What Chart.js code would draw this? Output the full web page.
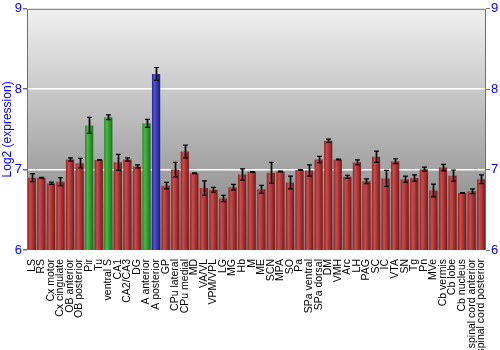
<!DOCTYPE html>
<html>
<head>
<meta charset="utf-8">
<script src="https://cdn.jsdelivr.net/npm/chart.js@4/dist/chart.umd.min.js"></script>
<style>
  html, body { margin: 0; padding: 0; background: #fff; }
  #wrap { width: 500px; height: 350px; }
</style>
</head>
<body>
<div id="wrap"><canvas id="c" width="500" height="350"></canvas></div>
<script>
const regions = ['LS', 'RS', 'Cx motor', 'Cx cingulate', 'OB anterior', 'OB posterior', 'Pir', 'Tu',
  'ventral S', 'CA1', 'CA2/CA3', 'DG', 'A anterior', 'A posterior', 'GP', 'CPu lateral', 'CPu medial',
  'MD', 'VA/VL', 'VPM/VPL', 'LG', 'MG', 'Hb', 'M', 'ME', 'SCN', 'MPA', 'SO', 'Pa', 'SPa ventral',
  'SPa dorsal', 'DM', 'VMH', 'Arc', 'LH', 'PAG', 'SC', 'IC', 'VTA', 'SN', 'Tg', 'Pn', 'MVe',
  'Cb vermis', 'Cb lobe', 'Cb nucleus', 'spinal cord anterior', 'spinal cord posterior']
const expression = [6.90, 6.90, 6.83, 6.85, 7.125, 7.08, 7.55, 7.12,
  7.65, 7.09, 7.125, 7.04, 7.575, 8.19, 6.80, 7.00, 7.225,
  6.955, 6.77, 6.75, 6.64, 6.78, 6.94, 6.97, 6.755, 6.96, 6.975, 6.84, 6.995, 6.99,
  7.125, 7.36, 7.125, 6.91, 7.09, 6.855, 7.16, 6.89, 7.105, 6.88, 6.895, 7.005, 6.74,
  7.025, 6.925, 6.71, 6.73, 6.88]
const errors = [0.05, 0.005, 0.015, 0.05, 0.02, 0.06, 0.10, 0.005,
  0.03, 0.10, 0.02, 0.02, 0.05, 0.08, 0.04, 0.09, 0.08,
  0.005, 0.09, 0.03, 0.04, 0.035, 0.07, 0.005, 0.05, 0.13, 0.005, 0.08, 0.005, 0.07,
  0.04, 0.02, 0.005, 0.02, 0.03, 0.03, 0.07, 0.10, 0.03, 0.04, 0.04, 0.025, 0.08,
  0.04, 0.07, 0.005, 0.03, 0.055]
const yTicks = [6, 7, 8, 9]

const greenSet = ['Pir', 'ventral S', 'A anterior']
const blueSet = ['A posterior']
const shades = {
  red: ['#8e2222', '#cc4c4c', '#7a1818'],
  green: ['#238a23', '#44bb44', '#1a701a'],
  blue: ['#25259a', '#5050cc', '#1a1a80']
}
const BAR_PCT = 0.86

const barFill = (ctx) => {
  const chart = ctx.chart
  const name = regions[ctx.dataIndex]
  const set = greenSet.includes(name) ? shades.green : blueSet.includes(name) ? shades.blue : shades.red
  const area = chart.chartArea
  const xs = chart.scales.x
  if (!area || !xs || ctx.dataIndex === undefined) return set[1]
  const cx = xs.getPixelForValue(ctx.dataIndex)
  const half = (area.width / regions.length) * BAR_PCT / 2
  const g = chart.ctx.createLinearGradient(cx - half, 0, cx + half, 0)
  g.addColorStop(0, set[0])
  g.addColorStop(0.3, set[1])
  g.addColorStop(1, set[2])
  return g
}

const backdrop = {
  id: 'backdrop',
  beforeDraw (chart) {
    const { ctx, chartArea: a } = chart
    const g = ctx.createLinearGradient(0, a.top, 0, a.bottom)
    g.addColorStop(0, '#f0f0f0')
    g.addColorStop(1, '#7c7c7c')
    ctx.save()
    ctx.fillStyle = g
    ctx.fillRect(a.left, a.top, a.right - a.left, a.bottom - a.top)
    ctx.restore()
  },
  afterDraw (chart) {
    const { ctx, chartArea: a } = chart
    ctx.save()
    ctx.strokeStyle = '#707070'
    ctx.lineWidth = 1
    ctx.beginPath()
    ctx.moveTo(a.left + 0.5, a.bottom)
    ctx.lineTo(a.left + 0.5, a.top + 0.5)
    ctx.lineTo(a.right - 0.5, a.top + 0.5)
    ctx.lineTo(a.right - 0.5, a.bottom)
    ctx.stroke()
    ctx.restore()
  }
}

const errorBars = {
  id: 'errorBars',
  afterDatasetsDraw (chart) {
    const { ctx } = chart
    const xs = chart.scales.x
    const ys = chart.scales.y
    ctx.save()
    expression.forEach((v, i) => {
      const x = Math.round(xs.getPixelForValue(i)) + 0.5
      const top = ys.getPixelForValue(v + errors[i])
      const bot = ys.getPixelForValue(v - errors[i])
      ctx.strokeStyle = 'rgba(60,60,60,0.45)'
      ctx.lineWidth = 3
      ctx.beginPath()
      ctx.moveTo(x, top); ctx.lineTo(x, bot)
      ctx.stroke()
      ctx.strokeStyle = '#000'
      ctx.lineWidth = 1.2
      ctx.beginPath()
      ctx.moveTo(x, top); ctx.lineTo(x, bot)
      ctx.moveTo(x - 2.5, top); ctx.lineTo(x + 2.5, top)
      ctx.moveTo(x - 2.5, bot); ctx.lineTo(x + 2.5, bot)
      ctx.stroke()
    })
    ctx.restore()
  }
}

const gridColour = (c) => (c.tick && (c.tick.value === 7 || c.tick.value === 8)) ? '#ffffff' : 'rgba(0,0,0,0)'
const axisFont = { family: 'Liberation Sans, Arial, sans-serif', size: 13 }

new Chart(document.getElementById('c'), {
  type: 'bar',
  data: {
    labels: regions,
    datasets: [{
      data: expression,
      backgroundColor: barFill,
      borderWidth: 0,
      barPercentage: BAR_PCT,
      categoryPercentage: 1
    }]
  },
  options: {
    responsive: false,
    animation: false,
    layout: { padding: { top: 4, right: 0, left: 0, bottom: 0 } },
    plugins: { legend: { display: false }, tooltip: { enabled: false } },
    scales: {
      x: {
        afterFit: (s) => { s.height = 100 },
        grid: { display: false },
        border: { display: false },
        ticks: {
          color: '#000',
          autoSkip: false,
          maxRotation: 90,
          minRotation: 90,
          padding: 1,
          font: { family: 'Liberation Sans, Arial, sans-serif', size: 10.5 }
        }
      },
      y: {
        min: 6,
        max: 9,
        afterBuildTicks: (s) => { s.ticks = yTicks.map(v => ({ value: v })) },
        afterFit: (s) => { s.width = 27 },
        border: { display: false },
        grid: { color: gridColour, lineWidth: 1.5, tickColor: '#707070', tickLength: 4 },
        ticks: { color: '#0000ff', font: axisFont, padding: 1 },
        title: { display: true, text: 'Log2 (expression)', color: '#0000ff', font: { family: 'Liberation Sans, Arial, sans-serif', size: 12 }, padding: 0 }
      },
      y2: {
        position: 'right',
        min: 6,
        max: 9,
        afterBuildTicks: (s) => { s.ticks = yTicks.map(v => ({ value: v })) },
        afterFit: (s) => { s.width = 14 },
        border: { display: false },
        grid: { drawOnChartArea: false, tickColor: '#707070', tickLength: 4 },
        ticks: { color: '#0000ff', font: axisFont, padding: 1 }
      }
    }
  },
  plugins: [backdrop, errorBars]
})
</script>
</body>
</html>
